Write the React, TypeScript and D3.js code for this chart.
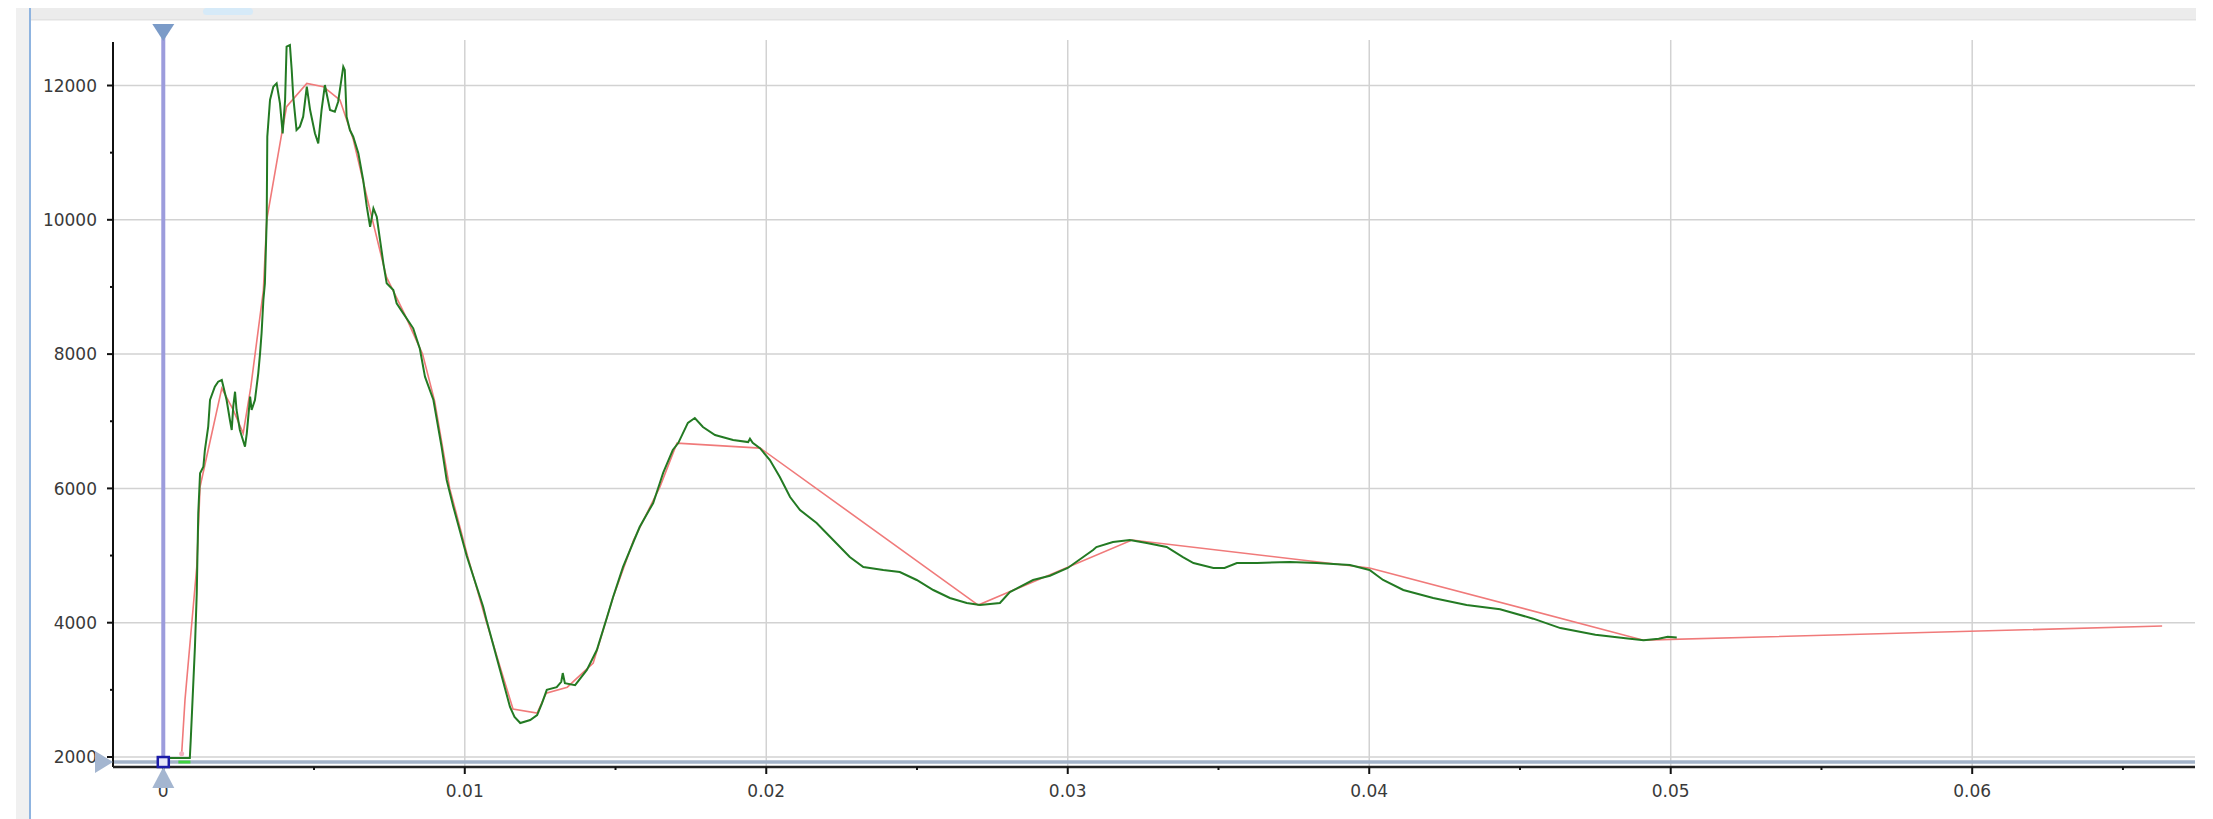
import React from "react";
import * as d3 from "d3";

// ---- data ----
const greenT = [
  0.0001, 0.00088, 0.00091, 0.00096, 0.00105, 0.00111, 0.00116, 0.00122, 0.00133, 0.00138,
  0.00149, 0.00155, 0.00171, 0.00182, 0.00194, 0.0021, 0.00221, 0.00227, 0.00232, 0.00238,
  0.00243, 0.00254, 0.00271, 0.00277, 0.00288, 0.00293, 0.00304, 0.00315, 0.00321, 0.00326,
  0.00332, 0.00337, 0.00343, 0.00345, 0.00354, 0.00365, 0.00376, 0.00387, 0.00396, 0.00404,
  0.00409, 0.0042, 0.00426, 0.00431, 0.00442, 0.00453, 0.00464, 0.00476, 0.00487, 0.00503,
  0.00514, 0.00525, 0.00536, 0.00553, 0.00569, 0.0058, 0.00597, 0.00602, 0.00608, 0.00619,
  0.0063, 0.00647, 0.00663, 0.00675, 0.00686, 0.00697, 0.00708, 0.00719, 0.0073, 0.00741,
  0.00763, 0.00774, 0.00796, 0.00829, 0.00851, 0.00868, 0.00896, 0.00923, 0.0094, 0.00962,
  0.01006, 0.01061, 0.01072, 0.01117, 0.0115, 0.01165, 0.01184, 0.01217, 0.0124, 0.01256,
  0.01272, 0.01305, 0.0132, 0.01325, 0.01332, 0.01366, 0.01405, 0.01438, 0.01472, 0.01492,
  0.01525, 0.0158, 0.01625, 0.01647, 0.01658, 0.0169, 0.01708, 0.0174, 0.01763, 0.0179,
  0.0183, 0.0189, 0.0194, 0.01946, 0.01955, 0.01979, 0.02012, 0.02045, 0.02079, 0.02112,
  0.02167, 0.02222, 0.02277, 0.02322, 0.02388, 0.02443, 0.02499, 0.02554, 0.02609, 0.02665,
  0.02709, 0.02775, 0.02808, 0.02885, 0.02941, 0.03, 0.03084, 0.03095, 0.0315, 0.03206,
  0.03262, 0.03328, 0.03382, 0.03417, 0.03483, 0.0352, 0.03561, 0.03628, 0.03737, 0.03826,
  0.03936, 0.04001, 0.04046, 0.04113, 0.04212, 0.04323, 0.04434, 0.04544, 0.04634, 0.0475,
  0.0485, 0.0491, 0.0496, 0.0499, 0.0502,
];
const greenV = [
  1985, 1985, 2250, 2745, 3643, 4438, 5629, 6225, 6324, 6572,
  6919, 7316, 7515, 7589, 7614, 7316, 7019, 6870, 7217, 7440,
  7168, 6870, 6621, 6820, 7366, 7168, 7316, 7714, 8012, 8310,
  8806, 9054, 9997, 11237, 11784, 11982, 12032, 11735, 11288, 11784,
  12578, 12603, 12231, 11834, 11337, 11387, 11536, 11982, 11635, 11288,
  11139, 11635, 12007, 11635, 11610, 11759, 12280, 12231, 11536, 11337,
  11237, 10990, 10593, 10195, 9897, 10171, 10046, 9699, 9352, 9054,
  8955, 8756, 8607, 8384, 8080, 7664, 7316, 6621, 6125, 5728,
  5000, 4238, 4040, 3296, 2745, 2596, 2506, 2551, 2625, 2800,
  3000, 3040, 3120, 3250, 3100, 3070, 3296, 3593, 4085, 4383,
  4830, 5425, 5783, 6080, 6230, 6572, 6675, 6975, 7048, 6914,
  6795, 6720, 6690, 6740, 6680, 6600, 6423, 6170, 5872, 5678,
  5485, 5232, 4978, 4830, 4785, 4755, 4636, 4487, 4368, 4293,
  4263, 4293, 4457, 4636, 4700, 4815, 5083, 5127, 5202, 5232,
  5187, 5127, 4978, 4889, 4815, 4815, 4889, 4889, 4904, 4889,
  4859, 4785, 4636, 4487, 4368, 4263, 4200, 4060, 3920, 3820,
  3770, 3740, 3760, 3790, 3780,
];

const redT = [
  0.00061, 0.00072, 0.00111, 0.00122, 0.00194, 0.00232, 0.00265, 0.0029, 0.00332, 0.00343,
  0.00393, 0.00409, 0.00476, 0.00531, 0.00586, 0.0063, 0.0068, 0.0074, 0.008, 0.0086,
  0.009, 0.0095, 0.0101, 0.0107, 0.0112, 0.0116, 0.0124, 0.0127, 0.0134, 0.01426,
  0.01492, 0.0156, 0.01647, 0.01704, 0.0198, 0.02703, 0.03213, 0.04001, 0.0491, 0.0663,
];
const redV = [
  2050, 2850, 4830, 6025, 7490, 7170, 6820, 7500, 8950, 9997,
  11288, 11684, 12032, 11982, 11784, 11200, 10250, 9150, 8600, 8000,
  7300, 6000, 4980, 4040, 3300, 2715, 2655, 2950, 3040, 3400,
  4380, 5230, 6020, 6675, 6600, 4263, 5232, 4815, 3740, 3950,
];

const xTickValues = [0, 0.01, 0.02, 0.03, 0.04, 0.05, 0.06];
const xTickLabels = ["0", "0.01", "0.02", "0.03", "0.04", "0.05", "0.06"];
const xMinorTicks = [0.005, 0.015, 0.025, 0.035, 0.045, 0.055, 0.065];
const yTickValues = [2000, 4000, 6000, 8000, 10000, 12000];
const yTickLabels = ["2000", "4000", "6000", "8000", "10000", "12000"];
const yMinorTicks = [3000, 5000, 7000, 9000, 11000];

const cursorX = 0;
const cursorY = 1925;

export default function App() {
  const W = 2213, H = 819;
  const left = 113, right = 2195, top = 42, bottom = 767;
  const x = d3.scaleLinear().domain([-0.001668, 0.06739]).range([left, right]);
  const y = d3.scaleLinear().domain([1851, 12648]).range([bottom, top]);

  const green = greenT.map((t, i) => [t, greenV[i]] as [number, number]);
  const red = redT.map((t, i) => [t, redV[i]] as [number, number]);
  const line = d3.line<[number, number]>().x((d) => x(d[0])).y((d) => y(d[1]));

  const font = "'DejaVu Sans', Verdana, sans-serif";
  const cx = x(cursorX);
  const cy = y(cursorY);

  return (
    <svg width={W} height={H} style={{ position: "absolute", left: 0, top: 0, background: "#fff" }}>
      {/* frame */}
      <rect x={16} y={8} width={14} height={H - 8} fill="#f0f0f0" />
      <rect x={29} y={8} width={2} height={H - 8} fill="#8fb4e0" />
      <rect x={31} y={8} width={2165} height={12} fill="#ececec" />
      <rect x={31} y={19} width={2165} height={1.5} fill="#e2e2e2" />
      <rect x={203} y={8} width={50} height={7} rx={3.5} fill="#d6eaf8" />

      {/* gridlines */}
      {yTickValues.map((v) => (
        <line key={"gy" + v} x1={left} x2={right} y1={y(v)} y2={y(v)} stroke="#d2d2d2" strokeWidth={1.5} />
      ))}
      {xTickValues.map((v) => (
        <line key={"gx" + v} x1={x(v)} x2={x(v)} y1={top - 2} y2={bottom} stroke="#d2d2d2" strokeWidth={1.5} />
      ))}

      {/* horizontal cursor band */}
      <line x1={left} x2={right} y1={cy} y2={cy} stroke="#a3b3c9" strokeWidth={3.5} />

      {/* axes */}
      <line x1={left} x2={left} y1={top} y2={bottom} stroke="#111" strokeWidth={2} />
      <line x1={left} x2={right} y1={bottom} y2={bottom} stroke="#222" strokeWidth={2.5} />
      {yTickValues.map((v, i) => (
        <g key={"yt" + v}>
          <line x1={left - 6} x2={left} y1={y(v)} y2={y(v)} stroke="#111" strokeWidth={2} />
          <text x={97} y={y(v)} dy="0.36em" textAnchor="end" fontFamily={font} fontSize={17} fill="#3a3a3a">
            {yTickLabels[i]}
          </text>
        </g>
      ))}
      {yMinorTicks.map((v) => (
        <line key={"ym" + v} x1={left - 3} x2={left} y1={y(v)} y2={y(v)} stroke="#111" strokeWidth={2} />
      ))}
      {xTickValues.map((v, i) => (
        <g key={"xt" + v}>
          <line x1={x(v)} x2={x(v)} y1={bottom} y2={bottom + 7} stroke="#111" strokeWidth={2} />
          <text x={x(v)} y={797} textAnchor="middle" fontFamily={font} fontSize={17} fill="#3a3a3a">
            {xTickLabels[i]}
          </text>
        </g>
      ))}
      {xMinorTicks.map((v) => (
        <line key={"xm" + v} x1={x(v)} x2={x(v)} y1={bottom} y2={bottom + 3} stroke="#111" strokeWidth={2} />
      ))}

      {/* series */}
      <path d={line(red) || ""} fill="none" stroke="#f07a7a" strokeWidth={1.6} />
      <path d={line(green) || ""} fill="none" stroke="#237a23" strokeWidth={2} strokeLinejoin="miter" />

      {/* vertical cursor */}
      <line x1={cx} x2={cx} y1={30} y2={bottom} stroke="#9c9cdc" strokeWidth={4} />
      <path d={`M${cx - 11},24 L${cx + 11},24 L${cx},41 Z`} fill="#7b9bc8" />
      <path d={`M${cx - 11},788 L${cx + 11},788 L${cx},767 Z`} fill="#a4b6d0" />
      <path d={`M95,${cy - 11} L95,${cy + 11} L${left},${cy} Z`} fill="#a4b6d0" />
      <rect x={cx - 5.5} y={cy - 5} width={11} height={10} fill="#e8e8f8" stroke="#1c1ca8" strokeWidth={2.5} />
      <path d={`M${x(0.0005)},${cy} L${x(0.0009)},${cy}`} stroke="#3fd43f" strokeWidth={3} />
      <circle cx={x(redT[0])} cy={y(redV[0])} r={2.5} fill="#f3b0c0" />
    </svg>
  );
}
